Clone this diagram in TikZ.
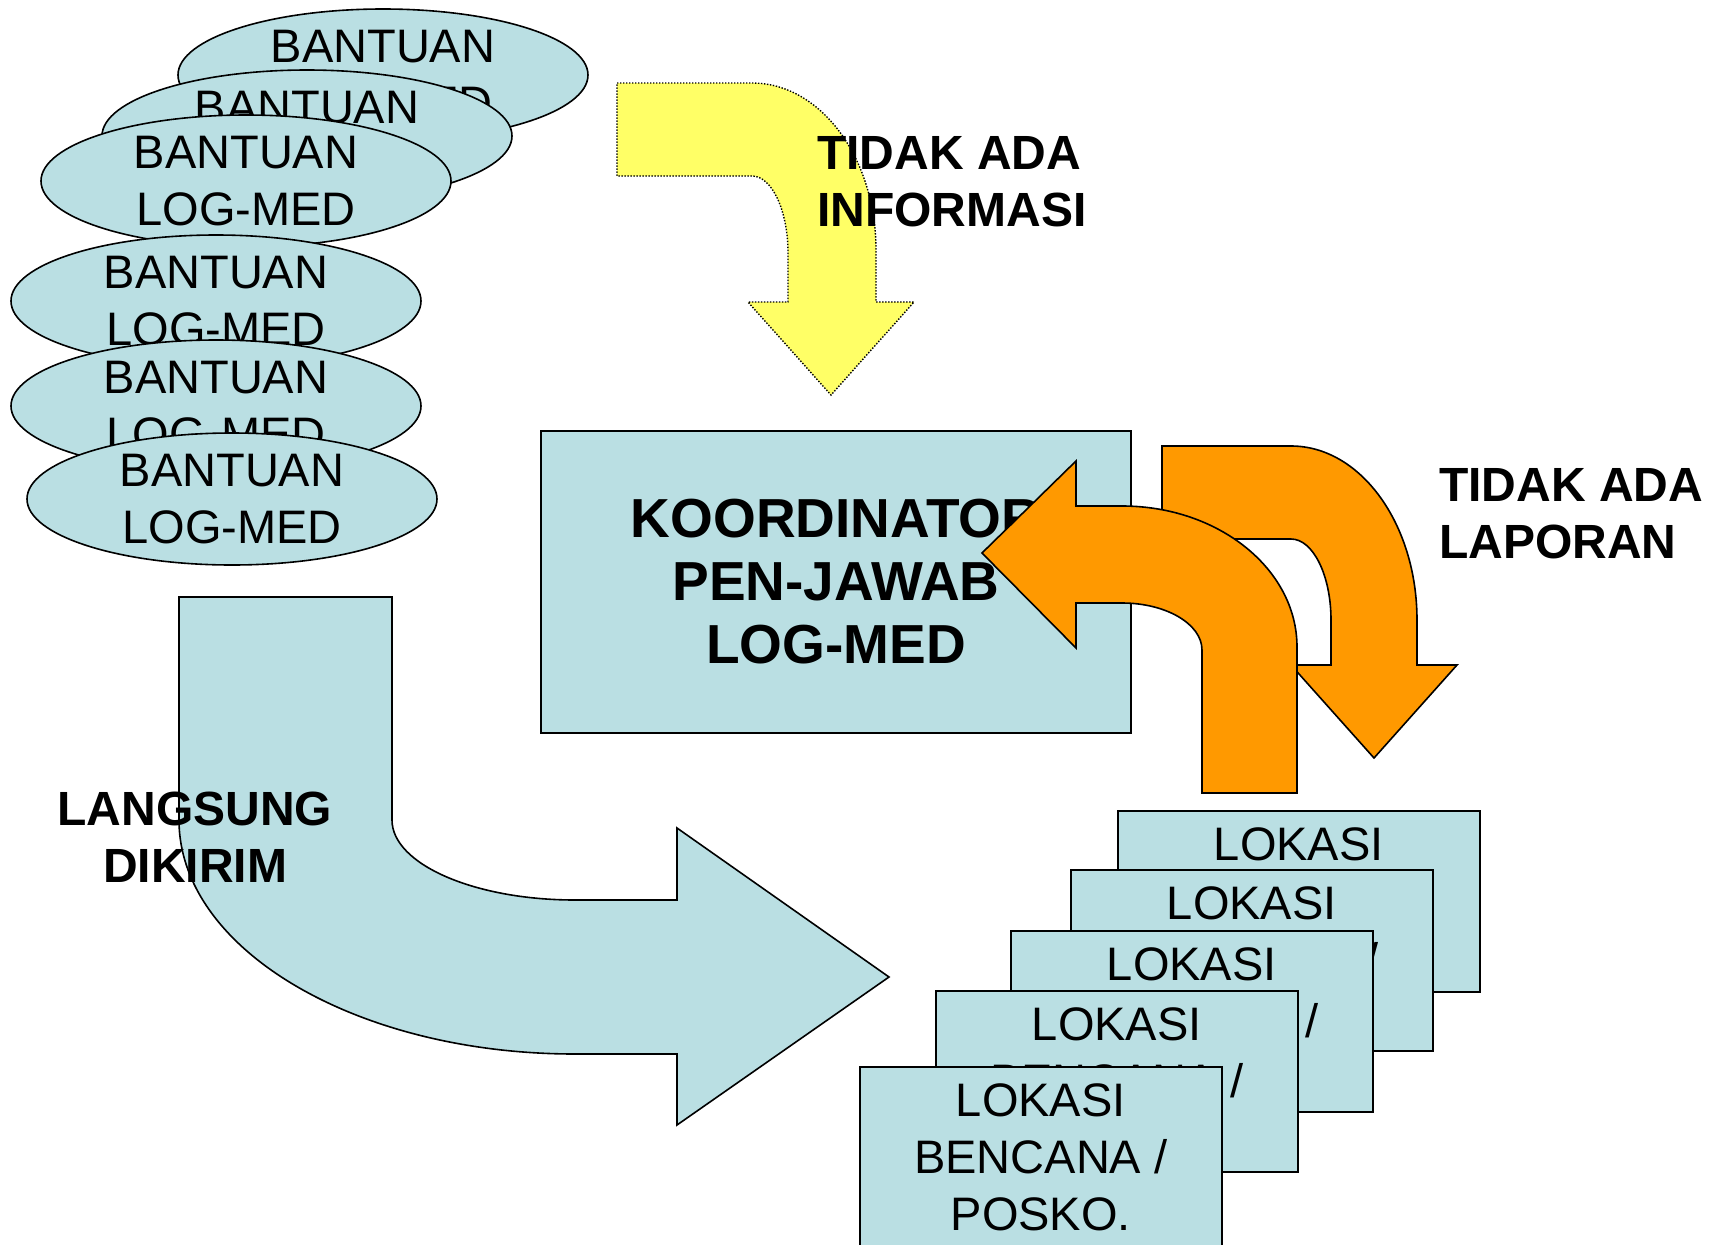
\documentclass[tikz,border=0pt]{standalone}
\usepackage{fontspec}
\setmainfont{Liberation Sans}
\usetikzlibrary{shapes.geometric}
\definecolor{lblue}{RGB}{186,223,227}
\definecolor{ayellow}{RGB}{255,255,102}
\definecolor{aorange}{RGB}{255,153,0}
\begin{document}
\begin{tikzpicture}[x=1pt,y=-1pt,
  outl/.style={draw=black, line width=1.6pt, line join=miter},
  ell/.style={ellipse, outl, fill=lblue, minimum width=410pt, minimum height=132pt,
    inner sep=0pt, align=center, font=\fontsize{47}{57}\selectfont},
  koordbox/.style={rectangle, outl, fill=lblue, minimum width=590pt, minimum height=302pt,
    inner sep=0pt, align=center, font=\fontsize{55}{63}\selectfont\bfseries},
  lokbox/.style={rectangle, outl, fill=lblue, minimum width=362pt, minimum height=181pt,
    inner sep=0pt, anchor=north west},
  loktext/.style={inner sep=0pt, align=center, anchor=north, font=\fontsize{47}{57}\selectfont},
  lbl/.style={inner sep=0pt, font=\fontsize{48}{57}\selectfont\bfseries},
  yarrow/.style={fill=ayellow, draw=black, line width=1.4pt, dash pattern=on 1.4pt off 1.6pt},
  oarrow/.style={fill=aorange, outl},
  barrow/.style={fill=lblue, outl}]
\useasboundingbox (0,0) rectangle (1725,1245);
\clip (0,0) rectangle (1725,1245);
\fill[white] (0,0) rectangle (1725,1245);

% stacked ellipses
\node[ell] (e1) at (383,75) {BANTUAN\\LOG-MED};
\node[ell] (e2) at (307,136) {BANTUAN\\LOG-MED};
\node[ell] (e3) at (246,181) {BANTUAN\\LOG-MED};
\node[ell] (e4) at (216,301) {BANTUAN\\LOG-MED};
\node[ell] (e5) at (216,406) {BANTUAN\\LOG-MED};
\node[ell] (e6) at (232,499) {BANTUAN\\LOG-MED};

% yellow bent arrow
\path[yarrow] (617,83) -- (752,83)
  .. controls (820.5,83) and (876,157.8) .. (876,250)
  -- (876,302) -- (914,302) -- (831,395) -- (748,302) -- (788,302) -- (788,253)
  .. controls (788,210.5) and (771.9,176) .. (752,176)
  -- (617,176) -- cycle;
\node[lbl, anchor=west, align=left] (info) at (817,182) {TIDAK ADA\\INFORMASI};

% coordinator box
\node[koordbox] (koord) at (836,582) {KOORDINATOR\\PEN-JAWAB\\LOG-MED};

% orange arrow A (down)
\path[oarrow] (1162,446) -- (1291,446)
  .. controls (1360.6,446) and (1417,524) .. (1417,620)
  -- (1417,665) -- (1457,665) -- (1374,758) -- (1291,665) -- (1331,665) -- (1331,620)
  .. controls (1331,575.3) and (1313,539) .. (1291,539)
  -- (1162,539) -- cycle;
% orange arrow B (left)
\path[oarrow] (982,553) -- (1076,461) -- (1076,506) -- (1122,506)
  .. controls (1218.6,506) and (1297,569.2) .. (1297,647)
  -- (1297,793) -- (1202,793) -- (1202,650)
  .. controls (1202,624) and (1166,603) .. (1122,603)
  -- (1076,603) -- (1076,648) -- cycle;
\node[lbl, anchor=west, align=left] (lapor) at (1439,514) {TIDAK ADA\\LAPORAN};

% light blue bent arrow
\path[barrow] (179,597) -- (392,597) -- (392,820)
  .. controls (392,864) and (474,900) .. (575,900)
  -- (677,900) -- (677,828) -- (889,977) -- (677,1125) -- (677,1054) -- (575,1054)
  .. controls (356.4,1054) and (179,949.2) .. (179,820)
  -- cycle;
\node[lbl, align=center] (lang) at (195,837) {LANGSUNG\\DIKIRIM};

% location boxes
\node[lokbox] (l1) at (1117,810) {};
\node[loktext] (l1t) at ([yshift=-17pt]l1.north) {LOKASI\\BENCANA /\\POSKO.};
\node[lokbox] (l2) at (1070,869) {};
\node[loktext] (l2t) at ([yshift=-17pt]l2.north) {LOKASI\\BENCANA /\\POSKO.};
\node[lokbox] (l3) at (1010,930) {};
\node[loktext] (l3t) at ([yshift=-17pt]l3.north) {LOKASI\\BENCANA /\\POSKO.};
\node[lokbox] (l4) at (935,990) {};
\node[loktext] (l4t) at ([yshift=-17pt]l4.north) {LOKASI\\BENCANA /\\POSKO.};
\node[lokbox] (l5) at (859,1066) {};
\node[loktext] (l5t) at ([yshift=-17pt]l5.north) {LOKASI\\BENCANA /\\POSKO.};
\end{tikzpicture}
\end{document}
